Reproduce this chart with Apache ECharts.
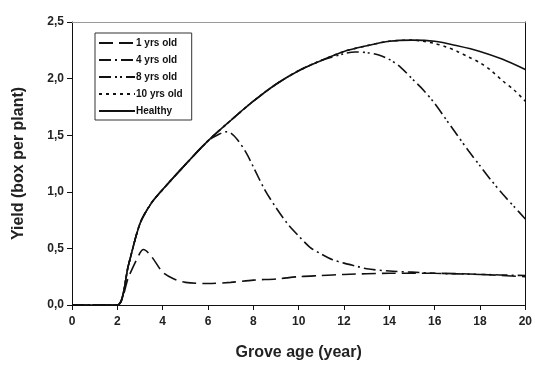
<!DOCTYPE html>
<html>
<head>
<meta charset="utf-8">
<script src="https://cdn.jsdelivr.net/npm/echarts@6/dist/echarts.min.js"></script>
<style>html,body{margin:0;padding:0;background:#fff}#c{width:535px;height:367px}</style>
</head>
<body>
<div id="c"></div>
<script>
var seriesNames = ['1 yrs old', '4 yrs old', '8 yrs old', '10 yrs old', 'Healthy'];
var xTicks = [0, 2, 4, 6, 8, 10, 12, 14, 16, 18, 20];
var yTicks = ['0,0', '0,5', '1,0', '1,5', '2,0', '2,5'];

var x1 = [0, 1, 2, 2.5, 3, 3.15, 3.5, 4, 4.5, 5, 6, 7, 8, 9, 10, 11, 12, 14, 16, 18, 20];
var y1 = [0, 0, 0, 0.25, 0.46, 0.49, 0.43, 0.29, 0.23, 0.2, 0.19, 0.2, 0.22, 0.23, 0.25, 0.26, 0.27, 0.28, 0.28, 0.27, 0.25];

var x4 = [0, 1, 2, 2.5, 3, 3.5, 4, 5, 6, 6.5, 6.8, 7, 7.3, 7.7, 8, 8.5, 9, 9.5, 10, 10.5, 11, 11.5, 12, 12.6, 13, 14, 15, 16, 18, 20];
var y4 = [0, 0, 0, 0.36, 0.72, 0.9, 1.02, 1.24, 1.45, 1.51, 1.53, 1.52, 1.46, 1.34, 1.22, 1.02, 0.86, 0.72, 0.61, 0.51, 0.45, 0.4, 0.37, 0.34, 0.32, 0.3, 0.29, 0.28, 0.27, 0.26];

var x8 = [0, 1, 2, 2.5, 3, 3.5, 4, 5, 6, 7, 8, 9, 10, 11, 12, 12.5, 13, 13.5, 14, 14.5, 15, 15.5, 16, 16.5, 17, 17.5, 18, 18.5, 19, 19.5, 20];
var y8 = [0, 0, 0, 0.36, 0.72, 0.9, 1.02, 1.24, 1.45, 1.63, 1.8, 1.95, 2.07, 2.16, 2.22, 2.235, 2.23, 2.21, 2.17, 2.1, 2.0, 1.9, 1.78, 1.64, 1.5, 1.36, 1.23, 1.1, 0.98, 0.87, 0.76];

var x10 = [0, 1, 2, 2.5, 3, 3.5, 4, 5, 6, 7, 8, 9, 10, 11, 12, 13, 14, 15, 15.5, 16, 16.5, 17, 17.5, 18, 18.5, 19, 19.5, 20];
var y10 = [0, 0, 0, 0.36, 0.72, 0.9, 1.02, 1.24, 1.45, 1.63, 1.8, 1.95, 2.07, 2.16, 2.24, 2.29, 2.33, 2.34, 2.33, 2.31, 2.28, 2.24, 2.19, 2.14, 2.07, 1.98, 1.9, 1.8];

var xH = [0, 1, 2, 2.5, 3, 3.5, 4, 5, 6, 7, 8, 9, 10, 11, 12, 13, 14, 15, 16, 17, 18, 19, 20];
var yH = [0, 0, 0, 0.36, 0.72, 0.9, 1.02, 1.24, 1.45, 1.63, 1.8, 1.95, 2.07, 2.16, 2.24, 2.29, 2.33, 2.34, 2.33, 2.29, 2.24, 2.17, 2.08];

function pairs(xs, ys) { return xs.map(function (x, i) { return [x, ys[i]]; }); }

var styles = [
  { type: [14, 6] },
  { type: [12, 4, 2, 4] },
  { type: [12, 4, 2, 3, 2, 4] },
  { type: [3, 4] },
  { type: 'solid' }
];
var datasets = [pairs(x1, y1), pairs(x4, y4), pairs(x8, y8), pairs(x10, y10), pairs(xH, yH)];

var font = 'Liberation Sans, Arial, sans-serif';
var chart = echarts.init(document.getElementById('c'), null, { renderer: 'canvas' });
chart.setOption({
  animation: false,
  backgroundColor: '#fff',
  grid: { left: 72, right: 8, top: 22, bottom: 62 },
  legend: {
    orient: 'vertical',
    left: 95, top: 33,
    padding: [5, 9, 4, 3],
    itemWidth: 36, itemHeight: 10, itemGap: 7,
    borderColor: '#333', borderWidth: 1,
    backgroundColor: '#fff',
    itemStyle: { color: 'transparent', borderWidth: 0, opacity: 0 },
    textStyle: { fontFamily: font, fontWeight: 'bold', fontSize: 10, color: '#111', padding: [0, 0, 0, -4] },
    data: seriesNames
  },
  xAxis: [{
    type: 'value', min: 0, max: 20, interval: 2,
    name: 'Grove age (year)', nameLocation: 'middle', nameGap: 40,
    nameTextStyle: { fontFamily: font, fontWeight: 'bold', fontSize: 16, color: '#222' },
    axisLine: { lineStyle: { color: '#111', width: 1 } },
    axisTick: { inside: false, length: 5, lineStyle: { color: '#111' } },
    axisLabel: { fontFamily: font, fontWeight: 'bold', fontSize: 12, color: '#222', margin: 11,
      formatter: function (v) { return xTicks.indexOf(v) >= 0 ? String(v) : ''; } },
    splitLine: { show: false }
  }, {
    type: 'value', min: 0, max: 20, position: 'top',
    axisLine: { onZero: false, lineStyle: { color: '#999', width: 1 } },
    axisTick: { show: false }, axisLabel: { show: false }, splitLine: { show: false }
  }],
  yAxis: [{
    type: 'value', min: 0, max: 2.5, interval: 0.5,
    name: 'Yield (box per plant)', nameLocation: 'middle', nameGap: 45,
    nameTextStyle: { fontFamily: font, fontWeight: 'bold', fontSize: 16, color: '#222' },
    axisLine: { show: true, lineStyle: { color: '#111', width: 1 } },
    axisTick: { show: true, inside: false, length: 5, lineStyle: { color: '#111' } },
    axisLabel: { fontFamily: font, fontWeight: 'bold', fontSize: 12, color: '#222', margin: 8,
      formatter: function (v) { return yTicks[Math.round(v / 0.5)]; } },
    splitLine: { show: false }
  }, {
    type: 'value', min: 0, max: 2.5, position: 'right',
    axisLine: { show: true, onZero: false, lineStyle: { color: '#111', width: 1 } },
    axisTick: { show: false }, axisLabel: { show: false }, splitLine: { show: false }
  }],
  series: seriesNames.map(function (n, i) {
    return {
      name: n, type: 'line', data: datasets[i], smooth: 0.3,
      symbol: 'none', z: 10 - i,
      lineStyle: { color: '#111', width: 1.6, type: styles[i].type },
      itemStyle: { color: '#111' }
    };
  })
});
</script>
</body>
</html>
